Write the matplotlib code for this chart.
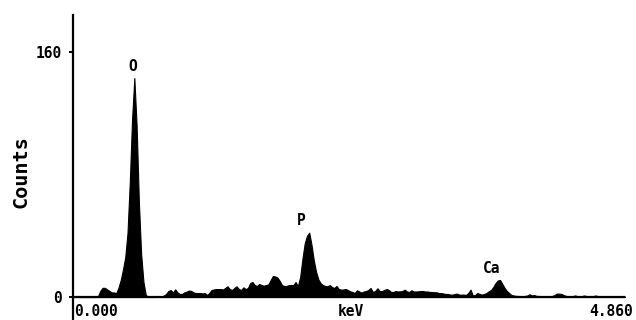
import numpy as np
import matplotlib
matplotlib.use("Agg")
import matplotlib.pyplot as plt

# EDS spectrum: counts per 0.02 keV channel, 0.000 - 4.860 keV
CHANNEL_KEV = 0.02
counts = [
    0, 0, 0, 0, 0, 0, 0, 0, 0, 0,
    0, 0.5, 4, 6, 6, 5, 4, 3, 3, 2.5,
    6, 11, 18, 26, 42, 75, 116, 143, 112, 62,
    28, 10, 1.5, 0, 0, 0, 0, 0.5, 0.5, 0.3,
    1, 2, 4, 4.5, 3, 5, 3, 2, 2, 3,
    3.5, 4.2, 4, 3, 2.6, 2.6, 2.6, 2.3, 2.6, 1.3,
    2.6, 4.6, 4.9, 5.2, 5.2, 5.2, 4.9, 5.9, 7, 5.2,
    4.6, 5.9, 7, 5.2, 4.6, 6.3, 5.2, 5.9, 9.1, 9.8,
    7.8, 7.2, 8.5, 7.8, 7.4, 7.8, 8.2, 11.1, 13.7, 13.4,
    12.7, 10.5, 7.8, 7.2, 7.2, 7.8, 7.8, 7.8, 9.8, 7.2,
    13, 25, 35, 40, 42, 34, 24, 16.5, 11.5, 9,
    7.8, 7.2, 7, 7.8, 6.5, 5.9, 7.2, 5.2, 4.8, 4.9,
    5.2, 4.6, 3.7, 3.3, 2.6, 4.4, 3.6, 2.9, 3.6, 3.9,
    4.6, 5.9, 3.3, 3.9, 5.7, 3.9, 3.9, 4.6, 5.2, 4.6,
    3.3, 3.3, 3.9, 3.6, 3.7, 3.9, 4.8, 3.6, 3.3, 4.4,
    3.6, 3.6, 3.7, 3.9, 3.9, 3.6, 3.6, 3.3, 3.3, 3.1,
    3.1, 2.6, 2.6, 2.3, 2, 2, 1.6, 1.5, 2, 2.2,
    1.6, 1.5, 1.6, 1.3, 2.6, 4.8, 1, 1.3, 2.6, 2,
    1.6, 2, 2.6, 3.7, 4.6, 6.5, 9.1, 10.8, 11.1, 8.5,
    5.9, 3.9, 2.6, 1.3, 1, 0.7, 0.7, 0.5, 0.5, 0.7,
    1, 1.8, 1, 1.3, 0.7, 0.7, 0.5, 0.5, 0.5, 0.5,
    0.5, 0.7, 1.3, 2.2, 2.2, 2, 1.3, 0.7, 0.5, 0.5,
    0.6, 1, 0.6, 0.5, 0.6, 1, 0.6, 0.5, 0.5, 0.6,
    1, 0.6, 0.5, 0.5, 0.5, 0.5, 0.5, 0.5, 0.5, 0.5,
    0.5, 0.5, 0.5, 0.3,
]

# Element lines marked on the spectrum
elements = ["O", "P", "Ca"]
line_kev = [0.525, 2.013, 3.69]

# Axis annotations
y_ticks = [0, 160]
x_range_labels = ["0.000", "4.860"]
x_min_kev, x_max_kev = 0.0, 4.86

counts = np.array(counts, dtype=float)
energy = np.arange(len(counts)) * CHANNEL_KEV

FONT = "DejaVu Sans Mono"
plt.rcParams["font.family"] = FONT
plt.rcParams["font.weight"] = "bold"

fig = plt.figure(figsize=(6.36, 3.20), dpi=100)
W, H = 636.0, 320.0
ax_left, ax_right = 73.0, 625.0
ax_top, ax_bottom = 15.0, 319.0
ax = fig.add_axes([ax_left / W, 1 - ax_bottom / H,
                   (ax_right - ax_left) / W, (ax_bottom - ax_top) / H])

px_per_count = (297.0 - 52.0) / 160.0
ax.set_xlim(x_min_kev, x_max_kev)
ax.set_ylim(-(ax_bottom - 297.0) / px_per_count, (297.0 - ax_top) / px_per_count)

ax.fill_between(energy, counts, 0, color="black", lw=0.8, edgecolor="black")
ax.axhline(0, color="black", lw=1.6)

for sp in ["top", "right", "bottom"]:
    ax.spines[sp].set_visible(False)
ax.spines["left"].set_linewidth(1.6)

ax.set_xticks([])
ax.set_yticks(y_ticks)
ax.set_yticklabels([str(t) for t in y_ticks])
ax.tick_params(axis="y", direction="out", length=3, width=1.4, pad=5,
               labelsize=10.5)

# Element labels above their peaks
for name, e in zip(elements, line_kev):
    near = np.abs(energy - e) <= 0.1
    top = counts[near].max()
    ax.annotate(name, xy=(e, top), xytext=(0, 8.5), textcoords="offset points",
                ha="center", va="center", fontsize=10.5, fontweight="bold")

# Energy range labels and axis title below the baseline
label_y = -(312.0 - 297.0) / px_per_count
ax.text(x_min_kev + 0.01, label_y, x_range_labels[0], ha="left", va="center",
        fontsize=10.5, fontweight="bold")
ax.text(x_max_kev + 0.07, label_y, x_range_labels[1], ha="right", va="center",
        fontsize=10.5, fontweight="bold", clip_on=False)
ax.text((x_min_kev + x_max_kev) / 2 + 0.02, label_y, "keV", ha="center",
        va="center", fontsize=10.5, fontweight="bold")

fig.text(21 / W, 1 - 172 / H, "Counts", rotation=90, ha="center", va="center",
         fontsize=14.5, fontweight="bold")

fig.savefig("out.png", dpi=100, facecolor="white")
